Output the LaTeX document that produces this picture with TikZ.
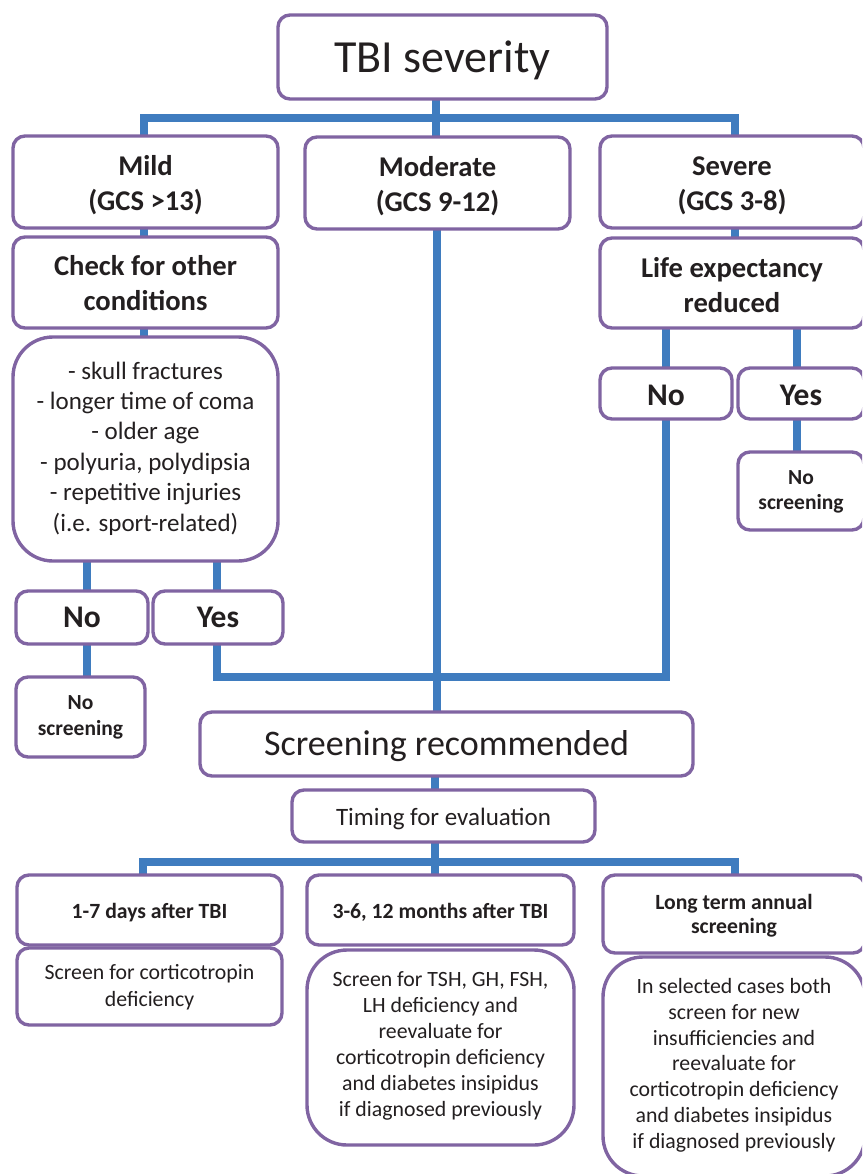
\documentclass[tikz,border=0pt]{standalone}
\usepackage{fontspec}
\setmainfont{Carlito}
\usetikzlibrary{calc}
\definecolor{purp}{HTML}{8064A2}
\definecolor{conblue}{HTML}{3F7CBF}
\definecolor{txt}{HTML}{231F20}
\pgfdeclarelayer{bg}
\pgfsetlayers{bg,main}
\tikzset{
  % tb={a}{m}: strut of a em + m baselines above, 0.3em below -> fixes text placement
  tb/.style 2 args={execute at begin node={\rule{0pt}{\dimexpr #1em + #2\baselineskip\relax}}},
  box/.style={draw=purp, line width=3.4pt, fill=white, rounded corners=12pt,
    rectangle, align=center, text=txt, inner sep=0pt, outer sep=0pt,
    tb={0.96}{0},
    execute at end node={\rule[-0.3em]{0pt}{0.3em}}},
  bigbox/.style={box, rounded corners=40pt},
  conn/.style={draw=conblue, line width=8pt},
  hd/.style={font=\fontsize{28.6}{35}\selectfont\bfseries},
  yn/.style={font=\fontsize{31.5}{34}\selectfont\bfseries},
  nos/.style={font=\fontsize{21.5}{25.5}\selectfont\bfseries},
  bhd/.style={font=\fontsize{21.7}{24}\selectfont\bfseries},
  btx/.style={font=\fontsize{21.8}{26}\selectfont},
}
\begin{document}
\begin{tikzpicture}[x=1pt,y=-1pt]
\useasboundingbox (0,0) rectangle (862,1174);
\clip (0,0) rectangle (862,1174);
% boxes
\node[box, tb={0.96}{0}, minimum width=329, minimum height=84, font=\fontsize{46}{50}\selectfont] (tbi) at (442.5,57) {TBI severity};
\node[box, hd, tb={1.06}{1}, minimum width=265, minimum height=92] (mild) at (145.5,182) {Mild\\(GCS >13)};
\node[box, hd, tb={1.06}{1}, minimum width=265, minimum height=92] (mod) at (437.5,183) {Moderate\\(GCS 9-12)};
\node[box, hd, tb={1.06}{1}, minimum width=264, minimum height=92] (sev) at (732,182) {Severe\\(GCS 3-8)};
\node[box, hd, tb={1.0}{1}, minimum width=265, minimum height=91] (check) at (145.5,282.5) {Check for other\\conditions};
\node[bigbox, tb={0.78}{5}, minimum width=265, minimum height=224, font=\fontsize{25}{30.4}\selectfont] (cond) at (145.5,449)
  {- skull fractures\\- longer time of coma\\- older age\\- polyuria, polydipsia\\- repetitive injuries\\(i.e. sport-related)};
\node[box, yn, tb={0.96}{0}, minimum width=132, minimum height=53] (no1) at (82,617.5) {No};
\node[box, yn, tb={0.96}{0}, minimum width=130, minimum height=53] (yes1) at (218,617.5) {Yes};
\node[box, nos, tb={0.82}{1}, minimum width=129, minimum height=80] (nos1) at (80.5,717) {No\\screening};
\node[box, hd, tb={1.14}{1}, minimum width=264, minimum height=90] (life) at (732,283) {Life expectancy\\reduced};
\node[box, yn, tb={1.04}{0}, minimum width=132, minimum height=51] (no2) at (666,393.5) {No};
\node[box, yn, tb={1.04}{0}, minimum width=126, minimum height=51] (yes2) at (801,393.5) {Yes};
\node[box, nos, tb={0.86}{1}, minimum width=126, minimum height=78] (nos2) at (801,491) {No\\screening};
\node[box, tb={0.92}{0}, minimum width=493, minimum height=64, font=\fontsize{36}{40}\selectfont] (scr) at (446.5,744) {Screening recommended};
\node[box, tb={1.02}{0}, minimum width=303, minimum height=52, font=\fontsize{25}{30}\selectfont] (tim) at (443.5,816) {Timing for evaluation};
\node[box, bhd, tb={1.04}{0}, minimum width=265, minimum height=70] (d17) at (149.5,910) {1-7 days after TBI};
\node[box, tb={0.94}{1}, minimum width=265, minimum height=77, font=\fontsize{21.8}{27}\selectfont] (d17b) at (149.5,986.5) {Screen for corticotropin\\deficiency};
\node[box, bhd, tb={1.04}{0}, minimum width=267, minimum height=70] (m36) at (440.5,910) {3-6, 12 months after TBI};
\node[bigbox, btx, tb={0.52}{5}, minimum width=267, minimum height=195] (m36b) at (440.5,1047.5)
  {Screen for TSH, GH, FSH,\\LH deficiency and\\reevaluate for\\corticotropin deficiency\\and diabetes insipidus\\if diagnosed previously};
\node[box, bhd, tb={1.0}{1}, minimum width=262, minimum height=78] (lt) at (734,914) {Long term annual\\screening};
\node[bigbox, tb={0.66}{6}, minimum width=262, minimum height=219, font=\fontsize{21.8}{25.8}\selectfont] (ltb) at (734,1066.5)
  {In selected cases both\\screen for new\\insufficiencies and\\reevaluate for\\corticotropin deficiency\\and diabetes insipidus\\if diagnosed previously};
% connectors
\coordinate (bus1) at (0,118);
\coordinate (bus2) at (0,862);
\coordinate (xtop) at (436,0);
\coordinate (xmod) at (437,0);
\coordinate (xm) at (144,0);
\coordinate (xs) at (735,0);
\coordinate (xno) at (87,0);
\coordinate (xyes) at (217,0);
\coordinate (xsno) at (666,0);
\coordinate (xsyes) at (797,0);
\coordinate (jn) at (0,677);
\coordinate (xt) at (435,0);
\coordinate (xb1) at (143,0);
\coordinate (xb3) at (735,0);
\begin{pgfonlayer}{bg}
\draw[conn] (tbi.south -| xtop) -- (bus1 -| xtop);
\draw[conn] (mild.north -| xm) -- (bus1 -| xm) -- (bus1 -| xs) -- (sev.north -| xs);
\draw[conn] (mod.north -| xtop) -- (bus1 -| xtop);
\draw[conn] (mild.south -| xm) -- (check.north -| xm);
\draw[conn] (check.south -| xm) -- (cond.north -| xm);
\draw[conn] (cond.south -| xno) -- (no1.north -| xno);
\draw[conn] (cond.south -| xyes) -- (yes1.north -| xyes);
\draw[conn] (no1.south -| xno) -- (nos1.north -| xno);
\draw[conn] (sev.south -| xs) -- (life.north -| xs);
\draw[conn] (life.south -| xsno) -- (no2.north -| xsno);
\draw[conn] (life.south -| xsyes) -- (yes2.north -| xsyes);
\draw[conn] (yes2.south -| xsyes) -- (nos2.north -| xsyes);
\draw[conn] (yes1.south -| xyes) -- (jn -| xyes) -- (jn -| xsno) -- (no2.south -| xsno);
\draw[conn] (mod.south -| xmod) -- (scr.north -| xmod);
\draw[conn] (scr.south -| xt) -- (tim.north -| xt);
\draw[conn] (tim.south -| xt) -- (bus2 -| xt);
\draw[conn] (d17.north -| xb1) -- (bus2 -| xb1) -- (bus2 -| xb3) -- (lt.north -| xb3);
\draw[conn] (m36.north -| xt) -- (bus2 -| xt);
\end{pgfonlayer}
\end{tikzpicture}
\end{document}
